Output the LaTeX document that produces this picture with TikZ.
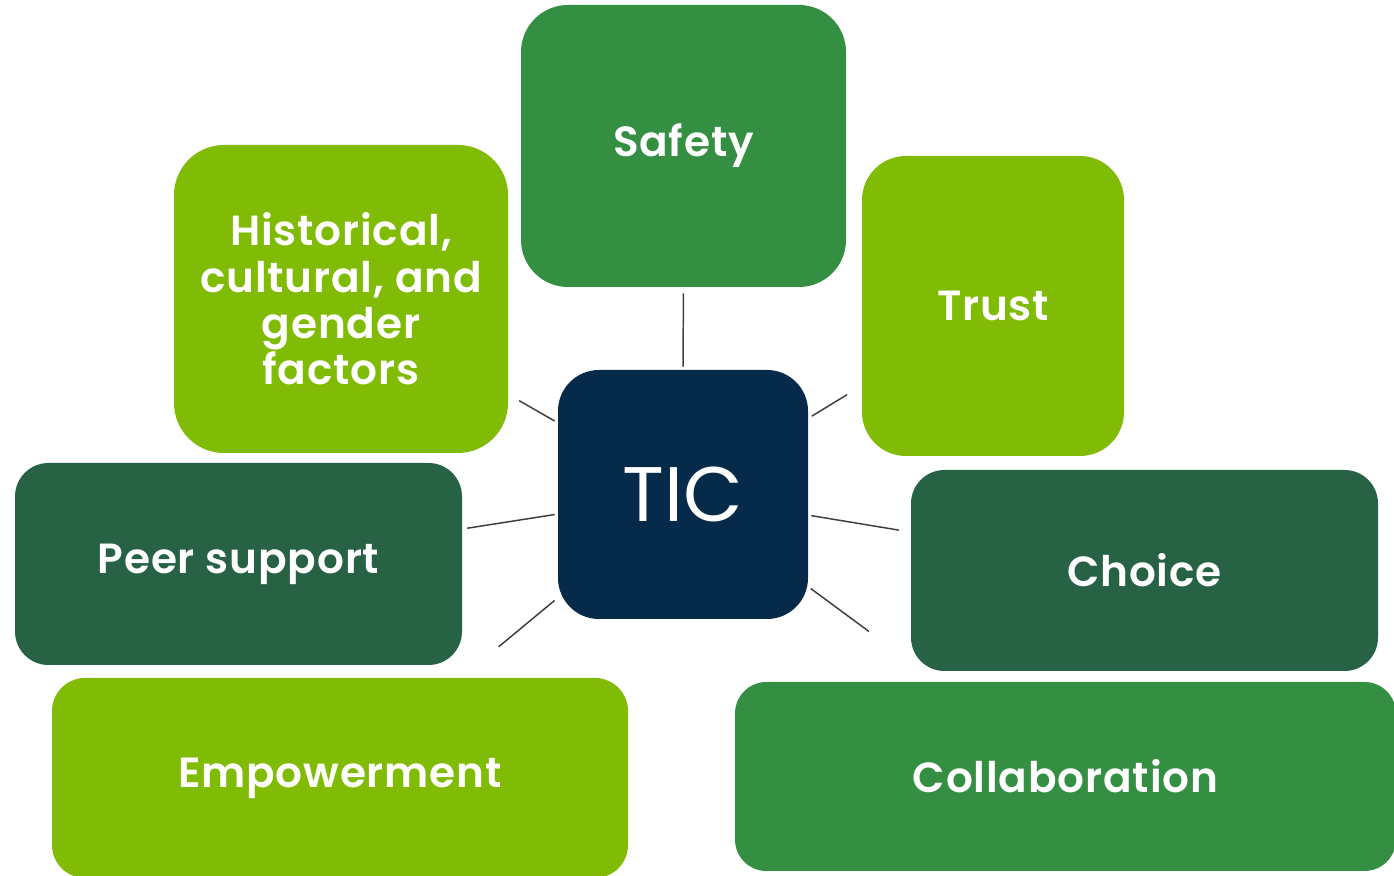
\documentclass[tikz,border=0pt]{standalone}
\usepackage{fontspec}
\setmainfont{Poppins}[BoldFont={Poppins SemiBold},BoldFeatures={LetterSpace=2}]
\definecolor{tileLime}{HTML}{80BC05}
\definecolor{tileLeaf}{HTML}{348F43}
\definecolor{tileForest}{HTML}{276245}
\definecolor{tileNavy}{HTML}{052A4A}
\definecolor{spoke}{HTML}{3F3F3F}
\begin{document}
\begin{tikzpicture}[
    x=1cm,y=1cm,
    every node/.style={align=center,text=white,inner sep=0pt},
    tile/.style={rounded corners=#1,font=\bfseries\fontsize{24}{26.4}\selectfont},
    lime/.style={fill=tileLime},
    leaf/.style={fill=tileLeaf},
    forest/.style={fill=tileForest},
    hub/.style={fill=tileNavy,rounded corners=0.82cm,minimum width=5cm,minimum height=4.98cm,
        font=\fontsize{44}{48}\selectfont},
    link/.style={draw=spoke,line width=0.85pt}
]
\useasboundingbox (0,0) rectangle (27.88,17.52);

% the hub in the middle
\node[hub] (tic) at (13.66,7.63) {TIC};

% tiles around it
\node[tile=0.94cm,leaf,minimum width=6.5cm,minimum height=5.64cm] (safety) at (13.67,14.60) {Safety};
\node[tile=1.0cm,lime,minimum width=6.68cm,minimum height=6.16cm] (history) at (6.82,11.54)
    {Historical,\\cultural, and\\gender\\factors};
\node[tile=0.88cm,lime,minimum width=5.24cm,minimum height=6cm] (trust) at (19.86,11.40) {Trust};
\node[tile=0.67cm,forest,minimum width=8.94cm,minimum height=4.04cm] (peer) at (4.77,6.24) {Peer support};
\node[tile=0.67cm,forest,minimum width=9.34cm,minimum height=4.02cm] (choice) at (22.89,6.11) {Choice};
\node[tile=0.66cm,lime,minimum width=11.52cm,minimum height=4cm] (empower) at (6.80,1.96) {Empowerment};
\node[tile=0.63cm,leaf,minimum width=13.22cm,minimum height=3.78cm] (collab) at (21.31,1.99) {Collaboration};

% spokes, kept clear of the tiles
\draw[link,shorten <=0.06cm,shorten >=0.12cm] (tic) -- (safety);
\draw[link,shorten <=0.07cm,shorten >=0.25cm] (tic) -- (history);
\draw[link,shorten <=0.08cm,shorten >=0.34cm] (tic) -- (trust);
\draw[link,shorten <=0.06cm,shorten >=0.10cm] (tic) -- (peer);
\draw[link,shorten <=0.06cm,shorten >=0.24cm] (tic) -- (choice);
\draw[link,shorten <=0.08cm,shorten >=0.97cm] (tic) -- (empower);
\draw[link,shorten <=0.06cm,shorten >=1.69cm] (tic) -- (collab);
\end{tikzpicture}
\end{document}
